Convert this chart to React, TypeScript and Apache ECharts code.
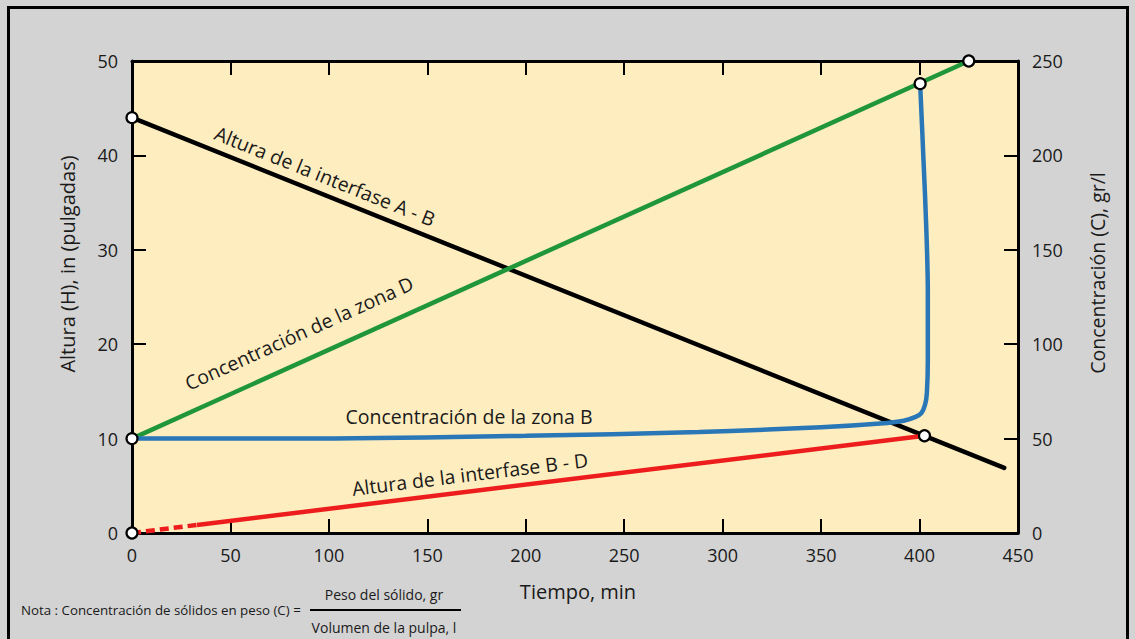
import React, { useEffect, useRef } from "react";
import * as echarts from "echarts";

const xTicks = [0, 50, 100, 150, 200, 250, 300, 350, 400, 450];
const heightTicks = [0, 10, 20, 30, 40, 50];
const concTicks = [0, 50, 100, 150, 200, 250];

// Altura de la interfase A - B (left axis, in)
const interfaseAB: [number, number][] = [
  [0, 44],
  [443, 6.9],
];
// Altura de la interfase B - D (left axis, in)
const interfaseBDDashed: [number, number][] = [
  [0, 0],
  [33, 0.85],
];
const interfaseBDSolid: [number, number][] = [
  [33, 0.85],
  [402.5, 10.3],
];
// Concentración de la zona D (right axis, gr/l)
const zonaD: [number, number][] = [
  [0, 50],
  [425, 250],
];
// Concentración de la zona B (right axis, gr/l)
const zonaB: [number, number][] = [
  [0, 50],
  [85, 50],
  [200, 51.5],
  [288, 53.5],
  [350, 56],
  [380, 58],
  [392, 59.5],
  [398, 61.5],
  [400.9, 63.5],
  [402.8, 68],
  [403.7, 74],
  [404.2, 91.5],
  [404.2, 127],
  [403.4, 162],
  [402, 197.5],
  [400.3, 238],
];
const leftMarkers: [number, number][] = [
  [0, 44],
  [0, 10],
  [0, 0],
  [402.5, 10.3],
];
const rightMarkers: [number, number][] = [
  [400.3, 238],
  [425, 250],
];

const FONT = "'Open Sans', 'Noto Sans', sans-serif";

export default function App() {
  const ref = useRef<HTMLDivElement>(null);
  useEffect(() => {
    if (!ref.current) return;
    const chart = echarts.init(ref.current, null, { renderer: "svg" });
    const tickStyle = { color: "#000", width: 2 };
    const lineAxis = { show: true, onZero: false, lineStyle: { color: "#000", width: 3 } };
    const labelStyle = { color: "#1a1a1a", fontSize: 18, fontFamily: FONT };
    const markerStyle = {
      type: "scatter" as const,
      symbol: "circle",
      symbolSize: 11,
      itemStyle: { color: "#fff", borderColor: "#000", borderWidth: 2.2, opacity: 1 },
      z: 10,
    };
    const textStyle = (text: string, fontSize: number, align = "center") => ({
      text,
      fontSize,
      fontFamily: FONT,
      fill: "#1a1a1a",
      align,
      verticalAlign: "middle",
    });
    chart.setOption({
      animation: false,
      backgroundColor: "#d3d3d3",
      grid: {
        left: 132,
        top: 61,
        width: 886,
        height: 472,
        show: true,
        backgroundColor: "#feedbf",
        borderColor: "#000",
        borderWidth: 0,
        outerBoundsMode: "none",
      },
      xAxis: [
        {
          type: "value",
          min: 0,
          max: 450,
          interval: 50,
          position: "bottom",
          axisLine: lineAxis,
          axisTick: { show: true, inside: true, length: 14, lineStyle: tickStyle },
          axisLabel: {
            ...labelStyle,
            margin: 13,
            formatter: (v: number) => (xTicks.includes(v) ? String(v) : ""),
          },
          splitLine: { show: false },
        },
        {
          type: "value",
          min: 0,
          max: 450,
          interval: 50,
          position: "top",
          axisLine: lineAxis,
          axisTick: { show: true, inside: true, length: 14, lineStyle: tickStyle },
          axisLabel: { show: false },
          splitLine: { show: false },
        },
      ],
      yAxis: [
        {
          type: "value",
          min: 0,
          max: 50,
          interval: 10,
          position: "left",
          axisLine: lineAxis,
          axisTick: { show: true, inside: true, length: 14, lineStyle: tickStyle },
          axisLabel: {
            ...labelStyle,
            margin: 14,
            formatter: (v: number) => (heightTicks.includes(v) ? String(v) : ""),
          },
          splitLine: { show: false },
        },
        {
          type: "value",
          min: 0,
          max: 250,
          interval: 50,
          position: "right",
          axisLine: lineAxis,
          axisTick: { show: true, inside: true, length: 14, lineStyle: tickStyle },
          axisLabel: {
            ...labelStyle,
            margin: 14,
            formatter: (v: number) => (concTicks.includes(v) ? String(v) : ""),
          },
          splitLine: { show: false },
        },
      ],
      series: [
        {
          type: "line",
          data: interfaseAB,
          yAxisIndex: 0,
          symbol: "none",
          lineStyle: { color: "#000", width: 4.5, cap: "round" },
          z: 3,
        },
        {
          type: "line",
          data: zonaD,
          yAxisIndex: 1,
          symbol: "none",
          lineStyle: { color: "#1f9639", width: 4.5 },
          z: 4,
        },
        {
          type: "line",
          data: zonaB,
          yAxisIndex: 1,
          symbol: "none",
          smooth: 0.35,
          lineStyle: { color: "#2a77b7", width: 4.5 },
          z: 5,
        },
        {
          type: "line",
          data: interfaseBDDashed,
          yAxisIndex: 0,
          symbol: "none",
          lineStyle: { color: "#ee1d1d", width: 4.5, type: [9, 5] },
          z: 5,
        },
        {
          type: "line",
          data: interfaseBDSolid,
          yAxisIndex: 0,
          symbol: "none",
          lineStyle: { color: "#ee1d1d", width: 4.5 },
          z: 5,
        },
        { ...markerStyle, data: leftMarkers, yAxisIndex: 0 },
        { ...markerStyle, data: rightMarkers, yAxisIndex: 1 },
      ],
      graphic: [
        {
          type: "rect",
          shape: { x: 8.5, y: 7.5, width: 1119, height: 700 },
          style: { fill: "none", stroke: "#000", lineWidth: 3 },
          silent: true,
        },
        {
          type: "text",
          x: 67,
          y: 264,
          rotation: Math.PI / 2,
          style: textStyle("Altura (H), in (pulgadas)", 20),
        },
        {
          type: "text",
          x: 1097,
          y: 273,
          rotation: Math.PI / 2,
          style: textStyle("Concentración (C), gr/l", 19.5),
        },
        {
          type: "text",
          x: 578,
          y: 591,
          style: textStyle("Tiempo, min", 20),
        },
        {
          type: "text",
          x: 325,
          y: 176,
          rotation: -0.382,
          style: textStyle("Altura de la interfase A - B", 19.5),
        },
        {
          type: "text",
          x: 299,
          y: 333,
          rotation: 0.424,
          style: textStyle("Concentración de la zona D", 19.5),
        },
        {
          type: "text",
          x: 469,
          y: 416,
          style: textStyle("Concentración de la zona B", 19.5),
        },
        {
          type: "text",
          x: 470,
          y: 474,
          rotation: 0.122,
          style: textStyle("Altura de la interfase B - D", 19.5),
        },
        {
          type: "text",
          x: 21,
          y: 610,
          style: textStyle("Nota : Concentración de sólidos en peso (C) =", 13.3, "left"),
        },
        {
          type: "line",
          shape: { x1: 310, y1: 610, x2: 461, y2: 610 },
          style: { stroke: "#000", lineWidth: 2 },
        },
        {
          type: "text",
          x: 384,
          y: 594,
          style: textStyle("Peso del sólido, gr", 14),
        },
        {
          type: "text",
          x: 384,
          y: 627,
          style: textStyle("Volumen de la pulpa, l", 14),
        },
      ],
    });
    return () => chart.dispose();
  }, []);
  return (
    <div
      ref={ref}
      style={{ position: "fixed", left: 0, top: 0, width: 1135, height: 639 }}
    />
  );
}
